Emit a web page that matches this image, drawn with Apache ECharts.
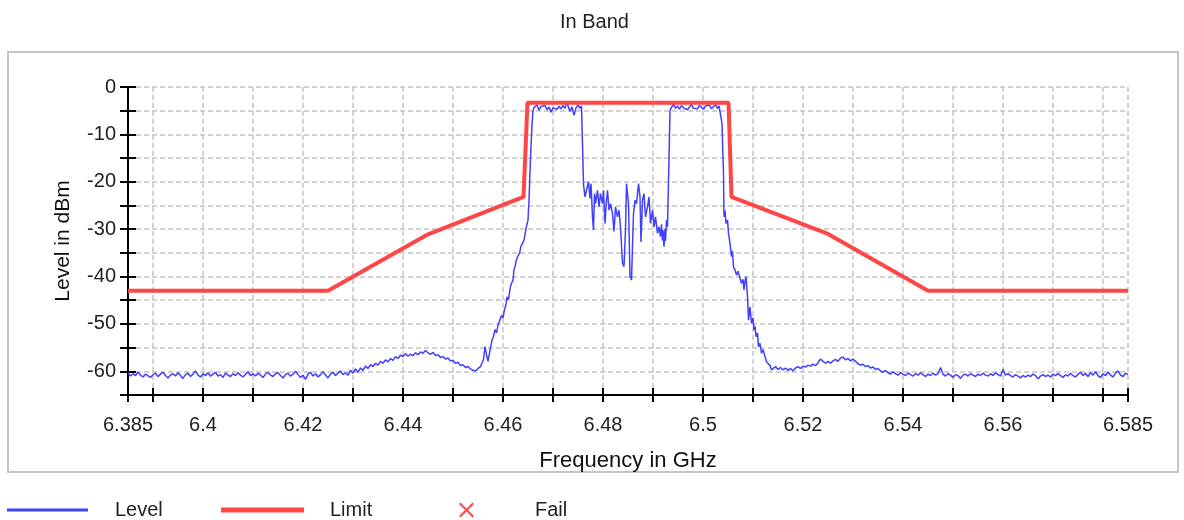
<!DOCTYPE html>
<html>
<head>
<meta charset="utf-8">
<title>In Band</title>
<script src="https://cdn.jsdelivr.net/npm/echarts@6/dist/echarts.min.js"></script>
<style>
  html, body { margin: 0; padding: 0; background: #fff; }
  #main { width: 1184px; height: 520px; }
</style>
</head>
<body>
<div id="main"></div>
<script>
// axis ticks / labels
var xTickValues = [6.385, 6.39, 6.4, 6.41, 6.42, 6.43, 6.44, 6.45, 6.46, 6.47, 6.48, 6.49, 6.5,
  6.51, 6.52, 6.53, 6.54, 6.55, 6.56, 6.57, 6.58, 6.585];
var xLabelValues = [6.385, 6.4, 6.42, 6.44, 6.46, 6.48, 6.5, 6.52, 6.54, 6.56, 6.585];

// limit mask
var limitFreq = [6.385, 6.425, 6.445, 6.4641, 6.4649, 6.5051, 6.5057, 6.525, 6.545, 6.585];
var limitDb = [-43, -43, -31.1, -23.2, -3.3, -3.3, -23.2, -31, -43, -43];

var levelFloorLeft = [
  [6.3850,-60.3],[6.3855,-61.0],[6.3860,-60.5],[6.3865,-60.9],[6.3870,-60.2],[6.3875,-60.8],
  [6.3880,-61.2],[6.3885,-60.6],[6.3890,-60.9],[6.3895,-61.3],[6.3900,-60.7],[6.3905,-60.4],
  [6.3910,-61.1],[6.3915,-60.6],[6.3920,-60.2],[6.3925,-60.9],[6.3930,-61.4],[6.3935,-60.8],
  [6.3940,-60.5],[6.3945,-61.0],[6.3950,-60.3],[6.3955,-60.9],[6.3960,-61.5],[6.3965,-60.7],
  [6.3970,-60.4],[6.3975,-61.1],[6.3980,-60.6],[6.3985,-59.9],[6.3990,-60.8],[6.3995,-61.2],
  [6.4000,-60.5],[6.4005,-60.9],[6.4010,-60.3],[6.4015,-61.0],[6.4020,-60.6],[6.4025,-60.2],
  [6.4030,-61.0],[6.4035,-60.7],[6.4040,-61.3],[6.4045,-60.4],[6.4050,-60.8],[6.4055,-61.1],
  [6.4060,-60.5],[6.4065,-60.9],[6.4070,-60.3],[6.4075,-60.8],[6.4080,-61.2],[6.4085,-60.6],
  [6.4090,-60.1],[6.4095,-60.9],[6.4100,-60.5],[6.4105,-61.0],[6.4110,-60.4],[6.4115,-60.8],
  [6.4120,-61.3],[6.4125,-60.6],[6.4130,-60.2],[6.4135,-60.8],[6.4140,-61.1],[6.4145,-60.5],
  [6.4150,-60.3],[6.4155,-60.9],[6.4160,-61.4],[6.4165,-60.7],[6.4170,-60.4],[6.4175,-61.0],
  [6.4180,-60.6],[6.4185,-60.0],[6.4190,-60.7],[6.4195,-61.3],[6.4200,-60.8],[6.4205,-61.7],
  [6.4210,-60.6],[6.4215,-60.2],[6.4220,-61.0],[6.4225,-60.5],[6.4230,-61.2],[6.4235,-60.7],
  [6.4240,-60.1],[6.4245,-60.8],[6.4250,-61.4],[6.4255,-60.6],[6.4260,-60.2],[6.4265,-60.9],
  [6.4270,-60.4],[6.4275,-59.9],[6.4280,-60.7],[6.4285,-60.3],[6.4290,-60.8],[6.4295,-59.8],
  [6.4300,-60.4]
];
var levelHumpLeft = [
  [6.4305,-59.5],[6.4310,-60.2],[6.4315,-59.3],[6.4320,-59.8],[6.4325,-58.9],[6.4330,-59.4],
  [6.4335,-58.6],[6.4340,-59.0],[6.4345,-58.3],[6.4350,-58.7],[6.4355,-57.9],[6.4360,-58.3],
  [6.4365,-57.6],[6.4370,-58.0],[6.4375,-57.3],[6.4380,-57.7],[6.4385,-56.9],[6.4390,-57.3],
  [6.4395,-56.6],[6.4400,-56.9],[6.4405,-56.3],[6.4410,-56.8],[6.4415,-56.4],[6.4420,-56.7],
  [6.4425,-56.1],[6.4430,-56.5],[6.4435,-55.9],[6.4440,-56.2],[6.4445,-55.6],[6.4450,-56.1],
  [6.4455,-56.4],[6.4460,-56.0],[6.4465,-56.7],[6.4470,-56.5],[6.4475,-57.1],[6.4480,-56.9],
  [6.4485,-57.4],[6.4490,-57.2],[6.4495,-57.8],[6.4500,-57.7],[6.4505,-58.3],[6.4510,-58.1],
  [6.4515,-58.8],[6.4520,-58.6],[6.4525,-59.2],[6.4530,-59.0],[6.4535,-59.5],[6.4540,-59.8]
];
var levelRiseLeft = [
  [6.4545,-59.9],[6.4550,-59.4],[6.4555,-59.0],[6.4558,-58.6],[6.4561,-57.5],[6.4564,-54.8],
  [6.4567,-56.5],[6.4570,-57.9],[6.4572,-58.3],[6.4575,-55.0],[6.4578,-53.4],[6.4581,-52.6],
  [6.4584,-51.2],[6.4587,-51.9],[6.4590,-50.3],[6.4594,-49.9],[6.4597,-48.2],[6.4600,-48.8],
  [6.4603,-47.0],[6.4606,-45.9],[6.4608,-44.3],[6.4611,-44.9],[6.4614,-42.6],[6.4617,-41.4],
  [6.4620,-40.8],[6.4622,-38.6],[6.4624,-37.9],[6.4627,-36.4],[6.4630,-35.6],[6.4633,-35.1],
  [6.4636,-33.6],[6.4639,-33.0],[6.4642,-32.3],[6.4645,-30.5],[6.4648,-28.9],[6.4650,-28.1],
  [6.4652,-24.0],[6.4654,-18.0],[6.4656,-12.5],[6.4658,-8.0],[6.4660,-5.0],[6.4662,-4.3]
];
var levelPassLeft = [
  [6.4665,-4.6],[6.4668,-3.8],[6.4672,-4.9],[6.4676,-4.1],[6.4680,-4.5],[6.4684,-3.9],
  [6.4688,-4.8],[6.4692,-4.2],[6.4696,-5.3],[6.4700,-4.4],[6.4704,-4.0],[6.4708,-4.7],
  [6.4712,-4.1],[6.4716,-4.6],[6.4720,-3.9],[6.4724,-4.5],[6.4728,-3.2],[6.4731,-4.3],
  [6.4734,-5.1],[6.4738,-4.2],[6.4742,-6.0],[6.4746,-4.4],[6.4750,-3.8],[6.4754,-4.5],
  [6.4757,-4.0],[6.4759,-12.0],[6.4761,-20.5],[6.4764,-23.2]
];
var levelNotch = [
  [6.4767,-23.2],[6.4771,-20.0],[6.4774,-23.5],[6.4776,-20.4],[6.4779,-27.4],[6.4781,-30.2],
  [6.4783,-22.5],[6.4785,-24.6],[6.4789,-21.8],[6.4792,-25.3],[6.4795,-22.5],[6.4799,-24.6],
  [6.4801,-21.8],[6.4804,-28.8],[6.4807,-23.9],[6.4809,-21.8],[6.4812,-26.0],[6.4815,-24.6],
  [6.4819,-26.7],[6.4822,-30.5],[6.4825,-25.3],[6.4829,-27.4],[6.4832,-26.0],[6.4835,-29.5],
  [6.4839,-37.2],[6.4842,-37.9],[6.4845,-30.2],[6.4847,-20.4],[6.4851,-24.6],[6.4854,-40.0],
  [6.4857,-40.7],[6.4861,-26.7],[6.4864,-23.9],[6.4867,-24.6],[6.4871,-20.4],[6.4874,-23.2],
  [6.4876,-32.7],[6.4879,-23.9],[6.4882,-22.5],[6.4885,-27.4],[6.4889,-25.3],[6.4892,-23.2],
  [6.4895,-28.8],[6.4899,-26.0],[6.4902,-29.5],[6.4905,-27.4],[6.4909,-30.9],[6.4912,-29.5],
  [6.4915,-31.6],[6.4917,-29.0],[6.4919,-32.4],[6.4920,-30.2],[6.4922,-33.7],[6.4924,-30.0],
  [6.4925,-32.5],[6.4927,-28.1],[6.4929,-29.5],[6.4932,-15.0],[6.4934,-5.0]
];
var levelPassRight = [
  [6.4937,-4.3],[6.4941,-3.6],[6.4945,-4.5],[6.4949,-4.0],[6.4953,-4.7],[6.4957,-3.9],
  [6.4961,-4.4],[6.4965,-4.1],[6.4969,-4.8],[6.4973,-4.2],[6.4977,-3.7],[6.4981,-4.5],
  [6.4985,-4.1],[6.4989,-4.6],[6.4993,-3.9],[6.4997,-4.3],[6.5001,-4.7],[6.5005,-4.0],
  [6.5009,-4.4],[6.5013,-3.8],[6.5017,-4.6],[6.5021,-4.2],[6.5025,-3.7],[6.5029,-4.5],
  [6.5032,-4.0],[6.5034,-3.6]
];
var levelFallRight = [
  [6.5038,-7.7],[6.5041,-18.3],[6.5042,-27.4],[6.5044,-26.0],[6.5046,-28.8],[6.5049,-28.1],
  [6.5051,-30.9],[6.5054,-33.0],[6.5057,-35.8],[6.5059,-34.6],[6.5061,-38.0],[6.5064,-38.6],
  [6.5067,-39.7],[6.5070,-38.9],[6.5073,-40.0],[6.5077,-41.4],[6.5080,-40.6],[6.5082,-42.8],
  [6.5084,-41.0],[6.5086,-40.0],[6.5089,-44.2],[6.5091,-49.2],[6.5094,-46.4],[6.5097,-49.9],
  [6.5100,-48.7],[6.5102,-51.3],[6.5104,-50.5],[6.5106,-52.7],[6.5109,-51.9],[6.5111,-54.8],
  [6.5114,-54.1],[6.5117,-56.2],[6.5120,-55.4],[6.5124,-56.9],[6.5127,-58.0],[6.5131,-57.6],
  [6.5134,-58.8],[6.5137,-59.7],[6.5141,-59.4],[6.5145,-59.0],[6.5150,-59.6],[6.5155,-59.2],
  [6.5160,-59.7],[6.5165,-59.3],[6.5170,-59.8],[6.5175,-59.4],[6.5180,-59.9],[6.5185,-59.3],
  [6.5190,-59.0],[6.5195,-59.4],[6.5200,-58.9],[6.5205,-59.1],[6.5210,-58.7],[6.5215,-58.9],
  [6.5220,-58.5],[6.5225,-58.8],[6.5230,-58.2],[6.5235,-57.4],[6.5240,-57.9],[6.5245,-58.3],
  [6.5250,-57.9],[6.5255,-58.3],[6.5260,-57.8],[6.5265,-57.5],[6.5270,-57.9],[6.5275,-57.2],
  [6.5280,-57.0],[6.5285,-57.6],[6.5290,-57.3],[6.5295,-57.8],[6.5300,-57.4],[6.5305,-57.9],
  [6.5310,-58.4],[6.5315,-58.7],[6.5320,-58.5],[6.5325,-59.0],[6.5330,-58.8],[6.5335,-59.3],
  [6.5340,-59.1],[6.5345,-59.6],[6.5350,-59.4],[6.5355,-59.9],[6.5360,-60.2],[6.5365,-59.8],
  [6.5370,-60.3],[6.5375,-60.6],[6.5380,-60.1],[6.5385,-60.5],[6.5390,-60.8],[6.5395,-60.3],
  [6.5400,-60.6]
];
var levelFloorRight = [
  [6.5405,-60.9],[6.5410,-60.4],[6.5415,-60.7],[6.5420,-61.0],[6.5425,-60.5],[6.5430,-60.8],
  [6.5435,-60.3],[6.5440,-60.7],[6.5445,-61.1],[6.5450,-60.6],[6.5455,-60.9],[6.5460,-60.4],
  [6.5465,-60.8],[6.5470,-60.5],[6.5475,-59.2],[6.5480,-60.6],[6.5485,-61.0],[6.5490,-60.5],
  [6.5495,-60.8],[6.5500,-61.3],[6.5505,-60.7],[6.5510,-60.9],[6.5515,-61.5],[6.5520,-60.8],
  [6.5525,-60.6],[6.5530,-61.0],[6.5535,-60.5],[6.5540,-60.8],[6.5545,-61.1],[6.5550,-60.6],
  [6.5555,-60.9],[6.5560,-60.4],[6.5565,-60.8],[6.5570,-61.0],[6.5575,-60.5],[6.5580,-60.9],
  [6.5585,-60.3],[6.5590,-60.7],[6.5595,-61.0],[6.5600,-59.6],[6.5605,-60.8],[6.5610,-60.5],
  [6.5615,-60.9],[6.5620,-61.2],[6.5625,-60.7],[6.5630,-61.0],[6.5635,-61.4],[6.5640,-60.9],
  [6.5645,-61.2],[6.5650,-60.8],[6.5655,-61.1],[6.5660,-60.6],[6.5665,-60.9],[6.5670,-61.6],
  [6.5675,-61.0],[6.5680,-60.7],[6.5685,-61.1],[6.5690,-60.8],[6.5695,-61.2],[6.5700,-60.6],
  [6.5705,-60.9],[6.5710,-60.5],[6.5715,-60.9],[6.5720,-61.3],[6.5725,-60.7],[6.5730,-61.0],
  [6.5735,-60.4],[6.5740,-60.9],[6.5745,-61.2],[6.5750,-60.6],[6.5755,-60.2],[6.5760,-60.9],
  [6.5765,-60.4],[6.5770,-61.1],[6.5775,-60.3],[6.5780,-60.8],[6.5785,-60.1],[6.5790,-60.9],
  [6.5795,-61.3],[6.5800,-60.5],[6.5805,-60.9],[6.5810,-60.2],[6.5815,-60.8],[6.5820,-61.2],
  [6.5825,-60.4],[6.5830,-59.9],[6.5835,-60.8],[6.5840,-61.1],[6.5845,-60.4],[6.5850,-60.7]
];

var levelData = [].concat(levelFloorLeft, levelHumpLeft, levelRiseLeft, levelPassLeft,
  levelNotch, levelPassRight, levelFallRight, levelFloorRight);
var limitData = limitFreq.map(function (f, i) { return [f, limitDb[i]]; });

var font = 'Liberation Sans, Arial, sans-serif';
var gridDash = { color: '#c4c4c4', width: 1.5, type: [5, 3] };
var blackLine = { color: '#000', width: 2 };

var chart = echarts.init(document.getElementById('main'));

chart.setOption({
  animation: false,
  backgroundColor: '#fff',
  textStyle: { fontFamily: font },
  title: {
    text: 'In Band',
    left: 555,
    top: 7,
    textStyle: { fontSize: 20, fontWeight: 'normal', color: '#222', fontFamily: font }
  },
  graphic: [{
    type: 'rect',
    shape: { x: 8, y: 52, width: 1170, height: 420 },
    style: { fill: 'none', stroke: '#c6c6c6', lineWidth: 2 },
    silent: true
  }],
  legend: [
    {
      data: ['Level'], left: 2, top: 495, icon: 'rect', itemWidth: 81, itemHeight: 3,
      selectedMode: false,
      textStyle: { fontSize: 20, color: '#222', padding: [0, 0, 0, 22], fontFamily: font }
    },
    {
      data: ['Limit'], left: 216, top: 495, icon: 'rect', itemWidth: 83, itemHeight: 5,
      selectedMode: false,
      textStyle: { fontSize: 20, color: '#222', padding: [0, 0, 0, 21], fontFamily: font }
    },
    {
      data: ['Fail'], left: 454, top: 495, itemWidth: 15, itemHeight: 15,
      icon: 'path://M1,0L5,4L9,0L10,1L6,5L10,9L9,10L5,6L1,10L0,9L4,5L0,1Z',
      selectedMode: false,
      textStyle: { fontSize: 20, color: '#222', padding: [0, 0, 0, 56], fontFamily: font }
    }
  ],
  grid: { left: 128, right: 56, top: 87, bottom: 125, containLabel: false },
  xAxis: [
    {
      type: 'value', min: 6.385, max: 6.585, position: 'bottom',
      name: 'Frequency in GHz', nameLocation: 'middle', nameGap: 55,
      nameTextStyle: { fontSize: 22, color: '#111', fontFamily: font },
      axisLine: { show: true, onZero: false, lineStyle: blackLine },
      axisTick: { show: true, customValues: xTickValues, length: 7, lineStyle: blackLine },
      axisLabel: { customValues: xLabelValues, fontSize: 20, margin: 20, color: '#222', fontFamily: font },
      splitLine: { show: true, lineStyle: gridDash }
    },
    {
      type: 'value', min: 6.385, max: 6.585, position: 'bottom',
      axisLine: { show: false, onZero: false },
      axisTick: { show: true, inside: true, customValues: xTickValues, length: 7, lineStyle: blackLine },
      axisLabel: { show: false },
      splitLine: { show: false }
    }
  ],
  yAxis: [
    {
      type: 'value', min: -65, max: 0, interval: 5, position: 'left',
      name: 'Level in dBm', nameLocation: 'middle', nameGap: 54, nameRotate: 90,
      nameTextStyle: { fontSize: 21, color: '#111', fontFamily: font },
      axisLine: { show: true, onZero: false, lineStyle: blackLine },
      axisTick: { show: true, length: 8, lineStyle: blackLine },
      axisLabel: {
        fontSize: 20, margin: 12, color: '#222', fontFamily: font,
        formatter: function (v) { return Math.abs(v % 10) < 1e-6 && v > -65 ? String(v) : ''; }
      },
      splitLine: { show: true, lineStyle: gridDash }
    },
    {
      type: 'value', min: -65, max: 0, interval: 5, position: 'left',
      axisLine: { show: false, onZero: false },
      axisTick: { show: true, inside: true, length: 8, lineStyle: blackLine },
      axisLabel: { show: false },
      splitLine: { show: false }
    }
  ],
  series: [
    {
      name: 'Level', type: 'line', data: levelData, showSymbol: false, z: 3,
      itemStyle: { color: '#4040ff' },
      lineStyle: { color: '#4040ff', width: 1.5 }
    },
    {
      name: 'Limit', type: 'line', data: limitData, showSymbol: false, z: 4,
      itemStyle: { color: '#ff4646' },
      lineStyle: { color: '#ff4646', width: 4 }
    },
    {
      name: 'Fail', type: 'scatter', data: [],
      itemStyle: { color: '#ff1a1a' }
    }
  ]
});
</script>
</body>
</html>
